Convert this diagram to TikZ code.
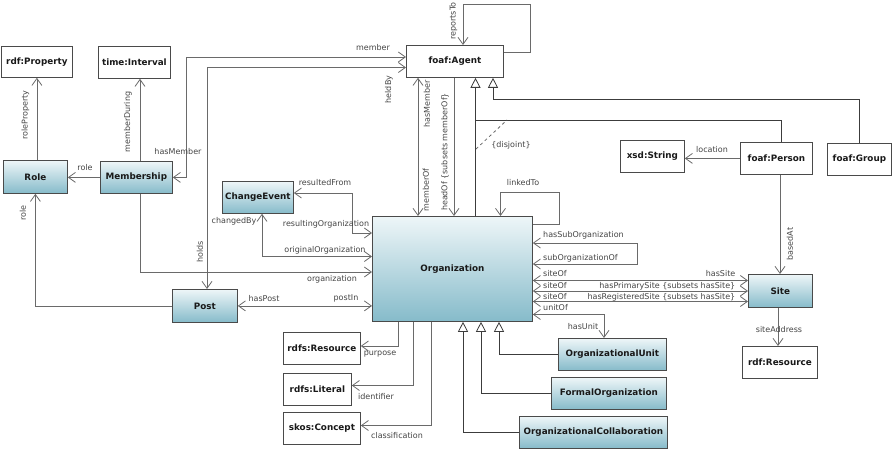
\documentclass[tikz,border=0pt]{standalone}
\usepackage{fontspec}
\setmainfont{DejaVu Sans}
\usetikzlibrary{arrows.meta,calc}
\definecolor{boxline}{HTML}{4A4A4A}
\definecolor{wire}{HTML}{6A6A6A}
\definecolor{genwire}{HTML}{3C3C3C}
\definecolor{labeltext}{HTML}{444444}
\definecolor{shadetop}{HTML}{EEF6F8}
\definecolor{shadebot}{HTML}{86BBCA}
\begin{document}
\begin{tikzpicture}[x=1pt,y=-1pt,
  >={Straight Barb[length=7pt,width=10pt]},
  box/.style={draw=boxline, line width=0.8pt, anchor=north west, inner sep=0pt,
     text=black!90, font=\fontsize{8.8}{10}\selectfont\bfseries},
  cls/.style={box, top color=shadetop, bottom color=shadebot},
  plain/.style={box, fill=white},
  assoc/.style={draw=wire, line width=0.8pt},
  gen/.style={draw=genwire, line width=0.8pt},
  genhead/.style={gen, -{Triangle[open,length=10pt,width=10pt]}},
  lbl/.style={text=labeltext, font=\fontsize{8}{9}\selectfont, inner sep=0pt},
  vlbl/.style={lbl, rotate=90},
]
\useasboundingbox (0,0) rectangle (892,449);

% ---------- classes ----------
\node[plain, minimum width=71pt, minimum height=31pt] (prop)   at (1,46)    {rdf:Property};
\node[plain, minimum width=72pt, minimum height=32pt] (intv)   at (98,46)   {time:Interval};
\node[cls,   minimum width=64pt, minimum height=33pt] (role)   at (3,160)   {Role};
\node[cls,   minimum width=72pt, minimum height=32pt] (memb)   at (100,161) {Membership};
\node[plain, minimum width=97pt, minimum height=32pt] (agent)  at (406,45)  {foaf:Agent};
\node[plain, minimum width=72pt, minimum height=32pt] (person) at (740,142) {foaf:Person};
\node[plain, minimum width=64pt, minimum height=32pt] (group)  at (827,143) {foaf:Group};
\node[plain, minimum width=64pt, minimum height=32pt] (xstr)   at (620,140) {xsd:String};
\node[cls,   minimum width=71pt, minimum height=32pt] (chev)   at (222,181) {ChangeEvent};
\node[cls,   minimum width=65pt, minimum height=33pt] (post)   at (172,289) {Post};
\node[cls,   minimum width=160pt, minimum height=105pt] (org)  at (372,216) {Organization};
\node[cls,   minimum width=64pt, minimum height=33pt] (site)   at (748,274) {Site};
\node[plain, minimum width=75pt, minimum height=32pt] (rres)   at (742,346) {rdf:Resource};
\node[plain, minimum width=77pt, minimum height=32pt] (rsres)  at (283,332) {rdfs:Resource};
\node[plain, minimum width=68pt, minimum height=32pt] (lit)    at (283,373) {rdfs:Literal};
\node[plain, minimum width=77pt, minimum height=32pt] (skos)   at (283,412) {skos:Concept};
\node[cls,   minimum width=108pt, minimum height=32pt] (unit)  at (558,338) {OrganizationalUnit};
\node[cls,   minimum width=115pt, minimum height=32pt] (formal) at (551,377) {FormalOrganization};
\node[cls,   minimum width=148pt, minimum height=32pt] (collab) at (519,416) {OrganizationalCollaboration};

% ---------- routing points ----------
\coordinate (kMD) at (140,0);
\coordinate (kM)  at (186,57);
\coordinate (kH)  at (207,67.5);
\coordinate (kO)  at (140,272);
\coordinate (kR)  at (352,193);
\coordinate (kR2) at (352,233);
\coordinate (kC)  at (262,256.5);
\coordinate (kMO) at (418,0);
\coordinate (kHO) at (454,0);
\coordinate (kPj) at (475.5,120.5);
\coordinate (kP)  at (781,0);
\coordinate (kGr) at (859,99);
\coordinate (kG2) at (493,99);
\coordinate (kD1) at (476,149);
\coordinate (kD2) at (507,120);
\coordinate (kT1) at (463,4);
\coordinate (kT2) at (530,52);
\coordinate (kL1) at (559,224);
\coordinate (kL2) at (500.5,192);
\coordinate (kS1) at (637,243);
\coordinate (kS2) at (637,264);
\coordinate (kSa) at (0,280.5);
\coordinate (kSb) at (0,291);
\coordinate (kSc) at (0,301.5);
\coordinate (kU)  at (604,314.5);
\coordinate (kPu) at (398,346);
\coordinate (kId) at (413.5,385.5);
\coordinate (kCl) at (431.5,425.5);
\coordinate (kGu) at (499,0);
\coordinate (kGf) at (481,0);
\coordinate (kGc) at (463,0);
\coordinate (kBa) at (780,0);
\coordinate (kSA) at (778,0);

% ---------- associations ----------
\draw[assoc,->] (role.north -| prop.south) -- (prop.south);
\draw[assoc,->] (memb.north -| kMD) -- (intv.south -| kMD);
\draw[assoc,->] (memb.west) -- (memb.west -| role.east);
\draw[assoc,->] (post.west) -| (role.south);
\draw[assoc,<->] (memb.east) -| (kM) -- (kM -| agent.west);
\draw[assoc,<->] (agent.west |- kH) -- (kH) -- (kH |- post.north);
\draw[assoc,->] (memb.south -| kO) -- (kO) -- (kO -| org.west);
\draw[assoc,<->] (post.east) -- (post.east -| org.west);
\draw[assoc,<->] (chev.east |- kR) -- (kR) -- (kR2) -- (kR2 -| org.west);
\draw[assoc,<->] (chev.south -| kC) -- (kC) -- (kC -| org.west);
\draw[assoc,<->] (agent.south -| kMO) -- (org.north -| kMO);
\draw[assoc,->] (agent.south -| kHO) -- (org.north -| kHO);
\draw[assoc,->] (agent.east |- kT2) -- (kT2) |- (kT1) -- (kT1 |- agent.north);
\draw[assoc,->] (org.east |- kL1) -- (kL1) |- (kL2) -- (kL2 |- org.north);
\draw[assoc,<->] (org.east |- kS1) -- (kS1) -- (kS2) -- (kS2 -| org.east);
\draw[assoc,<->] (org.east |- kSa) -- (site.west |- kSa);
\draw[assoc,<->] (org.east |- kSb) -- (site.west |- kSb);
\draw[assoc,<->] (org.east |- kSc) -- (site.west |- kSc);
\draw[assoc,<->] (org.east |- kU) -- (kU) -- (kU |- unit.north);
\draw[assoc,->] (org.south -| kPu) -- (kPu) -- (kPu -| rsres.east);
\draw[assoc,->] (org.south -| kId) -- (kId) -- (kId -| lit.east);
\draw[assoc,->] (org.south -| kCl) -- (kCl) -- (kCl -| skos.east);
\draw[assoc,->] (person.west) -- (person.west -| xstr.east);
\draw[assoc,->] (person.south -| kBa) -- (site.north -| kBa);
\draw[assoc,->] (site.south -| kSA) -- (rres.north -| kSA);

% ---------- generalizations ----------
\draw[genhead] (org.north -| kPj) -- (kPj |- agent.south);
\draw[gen] (person.north -| kP) |- (kPj);
\draw[genhead] (group.north -| kGr) |- (kG2) -- (kG2 |- agent.south);
\draw[gen, draw=wire, dash pattern=on 3pt off 3pt] (kD1) -- (kD2);
\draw[genhead] (unit.west) -| (org.south -| kGu);
\draw[genhead] (formal.west) -| (org.south -| kGf);
\draw[genhead] (collab.west) -| (org.south -| kGc);

% ---------- role names ----------
\node[vlbl] (tRP)  at (25.5,115)  {roleProperty};
\node[vlbl] (tMD)  at (128,122)   {memberDuring};
\node[lbl]  (tRo1) at (85,168)    {role};
\node[lbl]  (tHM1) at (178,151.5) {hasMember};
\node[vlbl] (tRo2) at (23,213)    {role};
\node[lbl]  (tMem) at (373,47.5)  {member};
\node[vlbl] (tHB)  at (389,89.5)  {heldBy};
\node[vlbl] (tHo)  at (200,252)   {holds};
\node[lbl]  (tOrg) at (332,279)   {organization};
\node[lbl]  (tHP)  at (264,298.5) {hasPost};
\node[lbl]  (tPI)  at (346,298.5) {postIn};
\node[lbl]  (tRF)  at (325,183)   {resultedFrom};
\node[lbl]  (tRO)  at (326,224)   {resultingOrganization};
\node[lbl]  (tCB)  at (234,221)   {changedBy};
\node[lbl]  (tOO)  at (325,250)   {originalOrganization};
\node[vlbl] (tHM2) at (427,104)   {hasMember};
\node[vlbl] (tMO)  at (426,190)   {memberOf};
\node[vlbl] (tHO)  at (445,152)   {headOf \{subsets memberOf\}};
\node[vlbl] (tRT)  at (453.5,21)  {reportsTo};
\node[lbl]  (tDj)  at (511,145)   {\{disjoint\}};
\node[lbl]  (tLT)  at (523,183)   {linkedTo};
\node[lbl, anchor=west] (tHS)  at (543,235.5) {hasSubOrganization};
\node[lbl, anchor=west] (tSO)  at (543,258.5) {subOrganizationOf};
\node[lbl, anchor=west] (tSi1) at (543,274)   {siteOf};
\node[lbl, anchor=west] (tSi2) at (543,285.5) {siteOf};
\node[lbl, anchor=west] (tSi3) at (543,296.5) {siteOf};
\node[lbl, anchor=west] (tUO)  at (543,307.5) {unitOf};
\node[lbl, anchor=east] (tHSi) at (735.5,274) {hasSite};
\node[lbl, anchor=east] (tHPS) at (735.5,286) {hasPrimarySite \{subsets hasSite\}};
\node[lbl, anchor=east] (tHRS) at (735.5,297) {hasRegisteredSite \{subsets hasSite\}};
\node[lbl]  (tHU)  at (583,327)   {hasUnit};
\node[lbl]  (tPu)  at (380,354)   {purpose};
\node[lbl]  (tId)  at (376,397)   {identifier};
\node[lbl]  (tCl)  at (397,436)   {classification};
\node[lbl]  (tLo)  at (712,149.5) {location};
\node[vlbl] (tBA)  at (790,244)   {basedAt};
\node[lbl]  (tSA)  at (779,330)   {siteAddress};
\end{tikzpicture}
\end{document}
